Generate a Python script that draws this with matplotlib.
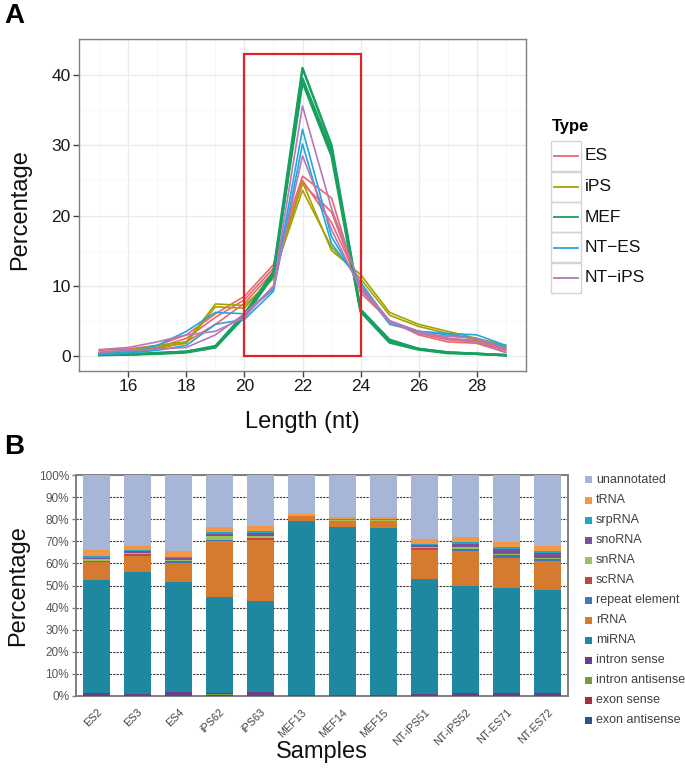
import matplotlib
matplotlib.use("Agg")
import matplotlib.pyplot as plt
from matplotlib.patches import Rectangle
from matplotlib.lines import Line2D
import numpy as np

plt.rcParams['font.family'] = ['Liberation Sans', 'DejaVu Sans']

W, H = 685, 770

# ---------------- panel A data: length distribution per sample ----------------
lengths = list(range(15, 30))
types = ["ES", "iPS", "MEF", "NT-ES", "NT-iPS"]
type_colors = {"ES": "#EA666B", "iPS": "#A5A200", "MEF": "#17A05F",
               "NT-ES": "#25A5DC", "NT-iPS": "#B877B8"}

len_es2 = [0.8, 1.0, 1.5, 3.0, 6.0, 8.5, 13.0, 25.6, 22.5, 9.0, 5.0, 3.0, 2.0, 1.8, 0.5]
len_es3 = [0.5, 0.8, 1.2, 2.5, 5.5, 8.0, 12.5, 24.5, 20.5, 9.5, 4.8, 3.2, 2.3, 2.0, 0.8]
len_es4 = [0.3, 0.5, 1.0, 2.0, 4.5, 7.5, 12.0, 25.0, 19.0, 10.0, 5.0, 3.5, 2.5, 2.2, 1.0]
len_ips62 = [0.5, 0.8, 1.5, 2.0, 7.4, 7.2, 11.0, 24.8, 15.0, 11.6, 6.2, 4.5, 3.5, 2.5, 1.5]
len_ips63 = [0.3, 0.6, 1.2, 1.8, 7.0, 6.8, 11.5, 23.6, 15.5, 11.0, 5.8, 4.2, 3.2, 2.3, 1.3]
len_mef13 = [0.2, 0.2, 0.4, 0.6, 1.4, 6.0, 12.0, 41.0, 30.0, 6.6, 2.3, 1.0, 0.5, 0.3, 0.1]
len_mef14 = [0.1, 0.2, 0.3, 0.5, 1.2, 5.6, 11.5, 39.0, 28.5, 6.3, 1.9, 0.9, 0.4, 0.3, 0.1]
len_mef15 = [0.2, 0.2, 0.4, 0.6, 1.3, 5.8, 11.8, 39.5, 29.2, 6.5, 2.1, 1.0, 0.5, 0.3, 0.1]
len_ntips51 = [0.9, 1.2, 2.0, 3.0, 3.5, 5.5, 10.0, 35.6, 21.0, 10.0, 5.0, 3.5, 2.5, 2.0, 0.5]
len_ntips52 = [0.5, 0.8, 1.0, 1.2, 3.0, 6.0, 9.8, 28.5, 18.0, 9.5, 4.8, 3.2, 2.8, 2.5, 1.0]
len_ntes71 = [0.3, 0.5, 1.5, 3.5, 6.2, 6.0, 9.5, 32.3, 17.0, 10.0, 4.5, 3.5, 3.2, 3.0, 1.5]
len_ntes72 = [0.2, 0.4, 0.8, 1.5, 4.5, 5.2, 9.2, 30.2, 16.0, 10.5, 4.8, 3.5, 3.0, 2.5, 1.2]

length_series = [
    ("ES", len_es2), ("ES", len_es3), ("ES", len_es4),
    ("iPS", len_ips62), ("iPS", len_ips63),
    ("MEF", len_mef13), ("MEF", len_mef14), ("MEF", len_mef15),
    ("NT-ES", len_ntes71), ("NT-ES", len_ntes72),
    ("NT-iPS", len_ntips51), ("NT-iPS", len_ntips52),
]

# highlighted window
box_x0, box_x1, box_top = 20, 24, 43

# ---------------- panel B data: annotation composition (%) ----------------
samples = ["ES2", "ES3", "ES4", "iPS62", "iPS63", "MEF13", "MEF14", "MEF15",
           "NT-iPS51", "NT-iPS52", "NT-ES71", "NT-ES72"]
categories = ["exon antisense", "exon sense", "intron antisense", "intron sense",
              "miRNA", "rRNA", "repeat element", "scRNA", "snRNA", "snoRNA",
              "srpRNA", "tRNA", "unannotated"]
cat_colors = ["#2C5586", "#9E3330", "#7B9A3A", "#6B3D8F", "#1E88A1", "#D67A30",
              "#3F78B9", "#C2453F", "#9BC258", "#7A529B", "#23A6C4", "#F39645",
              "#A7B5D7"]

exon_antisense = [0.1, 0.1, 0.1, 0.1, 0.1, 0.05, 0.05, 0.05, 0.1, 0.1, 0.1, 0.1]
exon_sense = [0.3, 0.3, 0.3, 0.4, 0.3, 0.1, 0.1, 0.1, 0.2, 0.3, 0.3, 0.3]
intron_antisense = [0.2, 0.2, 0.2, 0.5, 0.2, 0.05, 0.05, 0.05, 0.2, 0.2, 0.2, 0.2]
intron_sense = [0.6, 0.5, 1.2, 0.5, 1.2, 0.1, 0.1, 0.1, 0.5, 0.6, 0.6, 0.6]
mirna = [51.3, 54.9, 49.7, 43.5, 41.2, 78.7, 76.2, 75.7, 52.0, 48.8, 47.8, 46.8]
rrna = [8.0, 7.5, 8.5, 25.0, 27.5, 2.5, 2.5, 3.0, 13.0, 15.5, 13.5, 13.0]
repeat_element = [0.5, 0.5, 0.6, 0.5, 0.6, 0.1, 0.2, 0.2, 0.6, 0.6, 0.7, 0.6]
scrna = [0.3, 0.2, 0.3, 0.3, 0.3, 0.05, 0.1, 0.1, 0.3, 0.3, 0.4, 0.4]
snrna = [0.5, 0.6, 0.7, 1.5, 1.0, 0.1, 0.2, 0.2, 0.6, 0.8, 0.6, 0.6]
snorna = [0.8, 0.7, 0.8, 1.2, 1.3, 0.1, 0.3, 0.3, 1.0, 1.6, 2.5, 2.0]
srprna = [0.9, 0.5, 0.6, 0.5, 0.8, 0.15, 0.2, 0.2, 0.5, 0.7, 0.8, 0.9]
trna = [2.5, 2.0, 2.5, 2.5, 2.5, 0.5, 1.0, 0.8, 2.0, 2.5, 2.0, 2.5]
unannotated = [34.0, 32.0, 34.5, 23.5, 23.0, 17.5, 19.0, 19.2, 29.0, 28.0, 30.5, 32.0]

composition = [exon_antisense, exon_sense, intron_antisense, intron_sense, mirna,
               rrna, repeat_element, scrna, snrna, snorna, srprna, trna, unannotated]
pct_ticks = list(range(0, 101, 10))
pct_labels = ["0%", "10%", "20%", "30%", "40%", "50%", "60%", "70%", "80%", "90%", "100%"]


def px_axes(fig, x0, y0, x1, y1):
    return fig.add_axes([x0 / W, 1 - y1 / H, (x1 - x0) / W, (y1 - y0) / H])


def fx(x):
    return x / W


def fy(y):
    return 1 - y / H


fig = plt.figure(figsize=(W / 100, H / 100), dpi=100)

# ---------------- panel A ----------------
axA = px_axes(fig, 79, 39, 526, 371)
for t, vals in length_series:
    lw = 1.8 if t == "MEF" else 1.2
    axA.plot(lengths, vals, color=type_colors[t], lw=lw, zorder=3)
axA.add_patch(Rectangle((box_x0, 0), box_x1 - box_x0, box_top, fill=False,
                        ec="#E2212B", lw=1.6, zorder=5))
axA.set_xlim(14.3, 29.7)
axA.set_ylim(-2.15, 45.15)
axA.set_xticks(range(16, 29, 2))
axA.set_xticks(range(15, 30, 2), minor=True)
axA.set_yticks(range(0, 41, 10))
axA.set_yticks(range(5, 46, 10), minor=True)
axA.grid(True, which="major", color="#EBEBEB", lw=1.0, zorder=0)
axA.grid(True, which="minor", color="#F6F6F6", lw=0.6, zorder=0)
axA.set_axisbelow(True)
for s in axA.spines.values():
    s.set_color("#808080")
    s.set_linewidth(1.0)
axA.tick_params(which="major", direction="out", length=4, width=1, color="#444444",
                labelsize=12.5, labelcolor="#1A1A1A", pad=2)
axA.tick_params(which="minor", length=0)

fig.text(fx(20), fy(210), "Percentage", rotation=90, fontsize=17,
         ha="center", va="center", color="#111111")
fig.text(fx(302), fy(422), "Length (nt)", fontsize=17, ha="center", va="center",
         color="#111111")
fig.text(fx(4), fy(16), "A", fontsize=20, fontweight="bold", ha="left", va="center")

# legend A (ggplot-style keys)
fig.text(fx(552), fy(126), "Type", fontsize=12, fontweight="bold", ha="left",
         va="center")
for i, t in enumerate(types):
    yc = 156 + 30.5 * i
    fig.add_artist(Rectangle((fx(551), fy(yc + 15)), 30 / W, 30 / H,
                             transform=fig.transFigure, fill=False,
                             ec="#D4D4D4", lw=1.0))
    fig.add_artist(Line2D([fx(554), fx(578)], [fy(yc), fy(yc)],
                          transform=fig.transFigure, color=type_colors[t], lw=1.3))
    fig.text(fx(585), fy(yc), t.replace("-", "\u2212"), fontsize=12.5,
             ha="left", va="center", color="#111111")

# ---------------- panel B ----------------
axB = px_axes(fig, 76, 475, 568, 696)
x = np.arange(len(samples))
bottom = np.zeros(len(samples))
for cat, vals, col in zip(categories, composition, cat_colors):
    axB.bar(x, vals, width=0.67, bottom=bottom, color=col, edgecolor="none",
            zorder=3, label=cat)
    bottom += np.array(vals)
axB.set_xlim(-0.5, len(samples) - 0.5)
axB.set_ylim(0, 100)
axB.set_yticks(pct_ticks)
axB.set_yticklabels(pct_labels)
axB.yaxis.grid(True, ls=(0, (2, 1)), color="#3A3A3A", lw=0.8, zorder=0)
axB.set_axisbelow(True)
for s in axB.spines.values():
    s.set_color("#7F7F7F")
    s.set_linewidth(1.4)
axB.tick_params(axis="y", direction="out", length=3, width=1, color="#7F7F7F",
                labelsize=8.5, labelcolor="#555555", pad=2)
axB.set_xticks(x)
axB.set_xticklabels(samples, rotation=45, ha="right", rotation_mode="anchor",
                    fontsize=7.8, color="#444444")
axB.tick_params(axis="x", length=0, pad=8)

fig.text(fx(18), fy(586), "Percentage", rotation=90, fontsize=17,
         ha="center", va="center", color="#111111")
fig.text(fx(322), fy(752), "Samples", fontsize=17, ha="center", va="center",
         color="#111111")
fig.text(fx(4), fy(447), "B", fontsize=20, fontweight="bold", ha="left", va="center")

# legend B (top = last stacked category)
for i, (cat, col) in enumerate(zip(categories[::-1], cat_colors[::-1])):
    yc = 480 + 20 * i
    fig.add_artist(Rectangle((fx(585), fy(yc + 3.5)), 7 / W, 7 / H,
                             transform=fig.transFigure, fc=col, ec="none"))
    fig.text(fx(596), fy(yc), cat, fontsize=9, ha="left", va="center",
             color="#404040")

fig.savefig("out.png", dpi=100)
